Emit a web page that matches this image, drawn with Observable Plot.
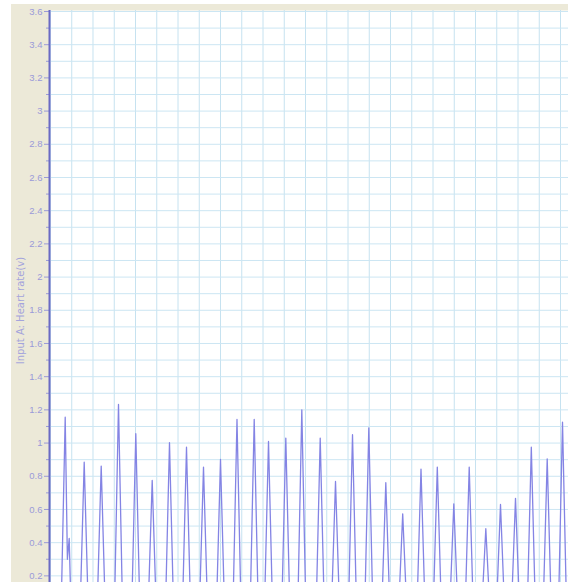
<!DOCTYPE html>
<html>
<head>
<meta charset="utf-8">
<script src="https://cdn.jsdelivr.net/npm/d3@7"></script>
<script src="https://cdn.jsdelivr.net/npm/@observablehq/plot@0.6"></script>
<style>
  html, body { margin: 0; padding: 0; background: #ffffff; }
  #wrap { position: relative; width: 568px; height: 582px; overflow: hidden; }
  #bg { position: absolute; left: 11px; top: 4px; right: 0; bottom: 0; background: #ECE9D8; }
  #chart { position: absolute; left: 0; top: 0; }
</style>
</head>
<body>
<div id="wrap"><div id="bg"></div><div id="chart"></div></div>
<script>
// Peak times (s) and peak voltages
const peakTime = [0.0692, 0.1586, 0.2386, 0.3200, 0.4014, 0.4786, 0.5600, 0.6400, 0.7200, 0.8000,
                  0.8776, 0.9586, 1.0259, 1.1073, 1.1826, 1.2692, 1.3412, 1.4212, 1.4979, 1.5779,
                  1.6574, 1.7435, 1.8202, 1.8979, 1.9704, 2.0485, 2.1176, 2.1882, 2.2626, 2.3374, 2.4094];
const peakValue = [1.156, 0.885, 0.861, 1.233, 1.056, 0.775, 1.002, 0.975, 0.855, 0.901,
                   1.142, 1.142, 1.010, 1.030, 1.200, 1.030, 0.769, 1.050, 1.092, 0.761,
                   0.574, 0.843, 0.855, 0.634, 0.855, 0.484, 0.630, 0.667, 0.975, 0.905, 1.126];
// Secondary bump on the falling edge of the first pulse
const bumpIndex = [0];
const bumpDipTime = [0.0795];
const bumpDipValue = [0.30];
const bumpTime = [0.0880];
const bumpValue = [0.425];
const bumpEndTime = [0.0965];
// Baseline between pulses and pulse half-width at the baseline
const baselineValue = 0.0;
const pulseHalfWidth = 0.019;

// Axis ticks and grid
const yTickValues = d3.range(1, 19).map(i => +(i * 0.2).toFixed(1));      // 0.2 .. 3.6
const yMinorTicks = d3.range(0, 18).map(i => +(0.3 + i * 0.2).toFixed(1)); // 0.3 .. 3.7
const yGridValues = d3.range(2, 37).map(i => +(i * 0.1).toFixed(1));       // 0.2 .. 3.6
const xGridValues = d3.range(0, 25).map(i => +(i * 0.1).toFixed(1));       // 0 .. 2.4
const yLabel = "Input A: Heart rate(v)";

// Build the trace vertices
const trace = [];
peakTime.forEach((t, i) => {
  trace.push({t: t - pulseHalfWidth, v: baselineValue});
  trace.push({t, v: peakValue[i]});
  const b = bumpIndex.indexOf(i);
  if (b >= 0) {
    trace.push({t: bumpDipTime[b], v: bumpDipValue[b]});
    trace.push({t: bumpTime[b], v: bumpValue[b]});
    trace.push({t: bumpEndTime[b], v: baselineValue});
  } else {
    trace.push({t: t + pulseHalfWidth, v: baselineValue});
  }
});

const labelColor = "#9a9ad8";
const chart = Plot.plot({
  width: 568,
  height: 582,
  marginLeft: 49,
  marginTop: 10,
  marginRight: 0,
  marginBottom: 0,
  style: {background: "transparent", fontFamily: "'Liberation Sans', Arial, sans-serif", fontSize: "9.5px"},
  x: {domain: [-0.0047, 2.4376], axis: null},
  y: {domain: [0.16, 3.606], axis: null},
  marks: [
    Plot.frame({fill: "#ffffff", stroke: null}),
    Plot.gridX(xGridValues, {stroke: "#c6e2f0", strokeOpacity: 1}),
    Plot.gridY(yGridValues, {stroke: "#cce6f3", strokeOpacity: 1}),
    Plot.line(trace, {x: "t", y: "v", stroke: "#8484e4", strokeWidth: 1.3, clip: true}),
    Plot.axisY(yMinorTicks, {tickSize: 3, tickFormat: () => "", stroke: labelColor, label: null}),
    Plot.axisY(yTickValues, {
      tickSize: 5, tickPadding: 2, stroke: labelColor, fill: labelColor,
      tickFormat: d => String(+d.toFixed(1)),
      label: yLabel, labelAnchor: "center", labelArrow: "none", labelOffset: 33
    }),
    Plot.ruleX([-0.0047], {stroke: "#6a6ac4", strokeWidth: 2})
  ]
});
// style the axis title like the original (larger, slightly lower)
chart.querySelectorAll('g[aria-label="y-axis label"] text').forEach(t => {
  t.setAttribute("font-size", "10px");
  t.setAttribute("font-family", "'DejaVu Sans', Verdana, sans-serif");
  t.setAttribute("x", "-14");
  t.setAttribute("fill", "#a4a4dc");
});
document.getElementById("chart").appendChild(chart);
</script>
</body>
</html>
